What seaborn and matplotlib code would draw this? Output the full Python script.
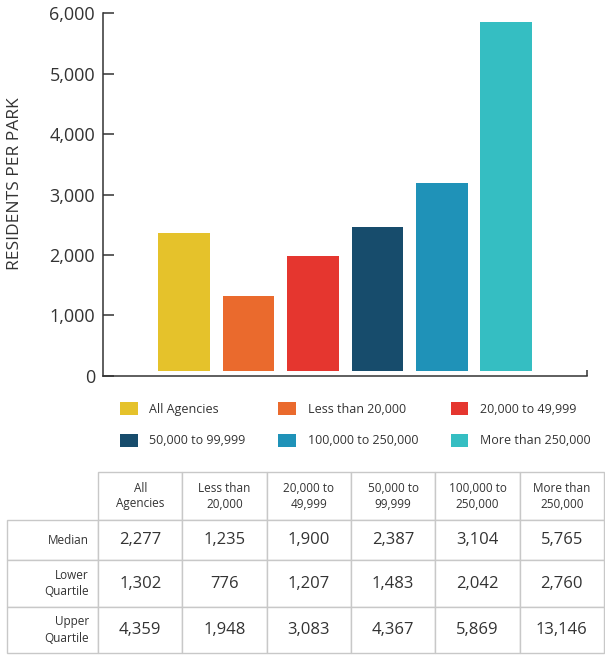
import matplotlib
matplotlib.use("Agg")
import matplotlib.pyplot as plt
import seaborn as sns

categories = ["All Agencies", "Less than 20,000", "20,000 to 49,999",
              "50,000 to 99,999", "100,000 to 250,000", "More than 250,000"]
median = [2277, 1235, 1900, 2387, 3104, 5765]
lower_quartile = [1302, 776, 1207, 1483, 2042, 2760]
upper_quartile = [4359, 1948, 3083, 4367, 5869, 13146]

column_headers = ["All\nAgencies", "Less than\n20,000", "20,000 to\n49,999",
                  "50,000 to\n99,999", "100,000 to\n250,000", "More than\n250,000"]
row_labels = ["Median", "Lower\nQuartile", "Upper\nQuartile"]
y_ticks = [0, 1000, 2000, 3000, 4000, 5000, 6000]
colors = ["#E5C22B", "#EA6A2D", "#E5362F", "#174C6C", "#1F92B8", "#35BEC2"]

text_color = "#333333"
grid_color = "#C8C8C8"
bar_base = 80  # bars float slightly above the axis line in the original

sns.set_style("ticks")
plt.rcParams["font.family"] = ["Open Sans", "DejaVu Sans"]
plt.rcParams["text.color"] = text_color

fig = plt.figure(figsize=(6.05, 6.55), dpi=100)
ax = fig.add_axes([0.1707, 0.426, 0.7993, 0.554])

sns.barplot(x=categories, y=median, hue=categories, palette=colors, width=0.8,
            saturation=1, errorbar=None, legend=False, ax=ax)
for bar in ax.patches:
    bar.set_y(bar_base)
    bar.set_linewidth(0)

ax.set_xlim(-1.25, 6.25)
ax.set_ylim(0, 6000)
ax.set_yticks(y_ticks, labels=[f"{v:,}" for v in y_ticks])
ax.set_xticks([6.25], labels=[""])
ax.set_xlabel("")
ax.tick_params(axis="y", direction="in", length=8, width=1.1, pad=6,
               labelsize=13, colors=text_color)
ax.tick_params(axis="x", direction="in", length=4, width=1.1, colors=text_color)
sns.despine(ax=ax)
for side in ["left", "bottom"]:
    ax.spines[side].set_color(text_color)
    ax.spines[side].set_linewidth(1.1)

ax.set_ylabel("RESIDENTS PER PARK", fontsize=12.5, color=text_color)
ax.yaxis.set_label_coords(-0.166, 0.53)

# legend, filled column by column so it reads row-wise like the original
order = [0, 3, 1, 4, 2, 5]
handles = [ax.patches[i] for i in order]
labels = [categories[i] for i in order]
ax.legend(handles, labels, loc="upper left", bbox_to_anchor=(120 / 605, 1 - 402 / 655),
          bbox_transform=fig.transFigure, ncol=3, frameon=False, fontsize=9,
          handlelength=1.4, handleheight=1.2, handletextpad=0.95,
          columnspacing=2.6, labelspacing=1.45, borderpad=0, borderaxespad=0)

# summary table under the chart; first column holds the row labels
tax = fig.add_axes([7 / 605, 2 / 655, 597 / 605, 181 / 655])
tax.axis("off")
cell_text = [[label] + [f"{v:,}" for v in row]
             for label, row in zip(row_labels, (median, lower_quartile, upper_quartile))]
table = tax.table(cellText=cell_text, colLabels=[""] + column_headers,
                  cellLoc="center", colLoc="center", bbox=[0, 0, 1, 1])
table.auto_set_font_size(False)
row_heights = {0: 48, 1: 40, 2: 47, 3: 46}
for (r, c), cell in table.get_celld().items():
    cell.set_edgecolor(grid_color)
    cell.set_linewidth(1)
    cell.set_height(row_heights[r])
    cell.set_width(91 if c == 0 else 84.3)
    txt = cell.get_text()
    txt.set_color(text_color)
    if r == 0 or c == 0:
        txt.set_fontsize(8.5)
        txt.set_linespacing(1.3)
    else:
        txt.set_fontsize(12)
    if c == 0:
        txt.set_horizontalalignment("right")
table[0, 0].set_visible(False)

fig.savefig("out.png", dpi=100)
plt.close("all")
